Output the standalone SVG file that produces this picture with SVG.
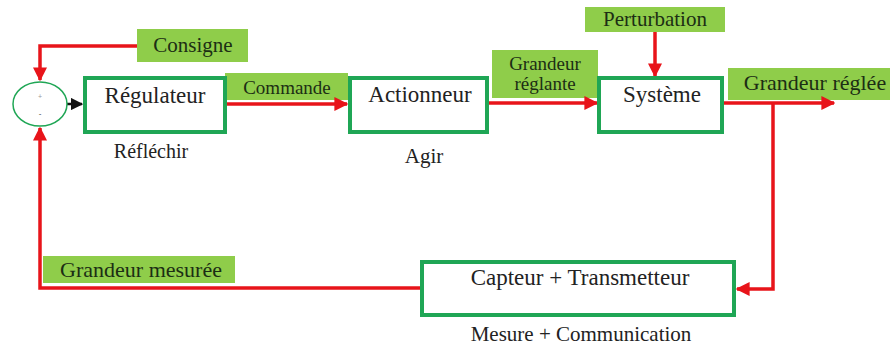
<svg xmlns="http://www.w3.org/2000/svg" width="890" height="348" viewBox="0 0 890 348">
<style>
.box{fill:#fff;stroke:#1fa655;stroke-width:4}
.lbl{fill:#8fcd4a}
.ln{fill:none;stroke:#e8141a;stroke-width:3.5}
.t{font-family:"Liberation Serif",serif;fill:#222;text-anchor:middle}
.tl{font-family:"Liberation Serif",serif;fill:#1c2e14;text-anchor:middle}
</style>
<defs>
<marker id="ar" viewBox="0 0 10 10" refX="9" refY="5" markerWidth="4" markerHeight="4" orient="auto" markerUnits="strokeWidth">
<path d="M0,0 L10,5 L0,10 z" fill="#e8141a"/>
</marker>
<marker id="ab" viewBox="0 0 10 10" refX="9" refY="5" markerWidth="5" markerHeight="5" orient="auto" markerUnits="strokeWidth">
<path d="M0,0 L10,5 L0,10 z" fill="#111"/>
</marker>
</defs>
<g id="labels">
<rect class="lbl" x="137" y="29" width="111" height="33"/>
<text class="tl" x="193" y="52" font-size="21">Consigne</text>
<rect class="lbl" x="225" y="73" width="123" height="27"/>
<text class="tl" x="287" y="94" font-size="19">Commande</text>
<rect class="lbl" x="492" y="50" width="106" height="48"/>
<text class="tl" x="545" y="70" font-size="19">Grandeur</text>
<text class="tl" x="545" y="90" font-size="19">réglante</text>
<rect class="lbl" x="585" y="7" width="140" height="25"/>
<text class="tl" x="655" y="26" font-size="21">Perturbation</text>
<rect class="lbl" x="728" y="68" width="162" height="32"/>
<text class="tl" x="815" y="90" font-size="22">Grandeur réglée</text>
<rect class="lbl" x="43" y="256" width="192" height="27"/>
<text class="tl" x="141" y="277" font-size="22">Grandeur mesurée</text>
</g>
<g id="connectors">
<polyline class="ln" points="137,46 40,46 40,80" marker-end="url(#ar)"/>
<line x1="67" y1="104" x2="82" y2="104" stroke="#111" stroke-width="2.5" marker-end="url(#ab)"/>
<line class="ln" x1="227" y1="104" x2="347" y2="104" marker-end="url(#ar)"/>
<line class="ln" x1="488" y1="103" x2="597" y2="103" marker-end="url(#ar)"/>
<line class="ln" x1="655" y1="32" x2="655" y2="76" marker-end="url(#ar)"/>
<line class="ln" x1="723" y1="103" x2="834" y2="103" marker-end="url(#ar)"/>
<polyline class="ln" points="773,103 773,289 737,289" marker-end="url(#ar)"/>
<polyline class="ln" points="421,288 40,288 40,128" marker-end="url(#ar)"/>
</g>
<g id="sum">
<ellipse cx="40" cy="104" rx="27" ry="22" fill="#fff" stroke="#1fa655" stroke-width="1.5"/>
<text x="40" y="99" font-family="Liberation Sans,sans-serif" font-size="7" fill="#999" text-anchor="middle">+</text>
<text x="40" y="116" font-family="Liberation Sans,sans-serif" font-size="8" fill="#333" text-anchor="middle">-</text>
</g>
<g id="regulateur">
<rect class="box" x="85" y="78" width="140" height="54"/>
<text class="t" x="155" y="103" font-size="23">Régulateur</text>
<text class="t" x="151" y="158" font-size="20">Réfléchir</text>
</g>
<g id="actionneur">
<rect class="box" x="350" y="78" width="137" height="54"/>
<text class="t" x="420" y="102" font-size="23">Actionneur</text>
<text class="t" x="424" y="163" font-size="21">Agir</text>
</g>
<g id="systeme">
<rect class="box" x="599" y="78" width="123" height="54"/>
<text class="t" x="662" y="102" font-size="23">Système</text>
</g>
<g id="capteur">
<rect class="box" x="422" y="262" width="312" height="53"/>
<text class="t" x="580" y="285" font-size="23">Capteur + Transmetteur</text>
<text class="t" x="581" y="341" font-size="21">Mesure + Communication</text>
</g>
</svg>
